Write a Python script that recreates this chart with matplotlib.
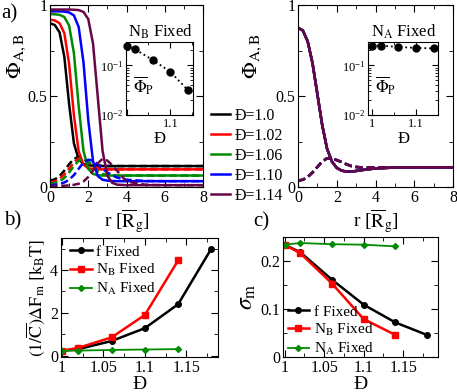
import numpy as np
import matplotlib
matplotlib.use('Agg')
import matplotlib.pyplot as plt
from matplotlib.ticker import MultipleLocator, LogLocator, NullFormatter

plt.rcParams['font.family'] = ['Liberation Serif', 'DejaVu Serif']
plt.rcParams['mathtext.fontset'] = 'stix'

# ---- data ----
r = [0, 0.25, 0.5, 0.75, 1.0, 1.25, 1.5, 1.75, 2.0, 2.25, 2.5, 2.75, 3.0, 3.25, 3.5, 4.0, 5.0, 6.0, 7.0, 8.0]
disp_labels = ['Đ=1.0', 'Đ=1.02', 'Đ=1.06', 'Đ=1.10', 'Đ=1.14']
colors = ['black', 'red', '#008b00', 'blue', '#670748']

# N_B fixed: solid = Phi_A, dashed = Phi_B
phiA_nb = [
    [0.90, 0.89, 0.85, 0.715, 0.455, 0.24, 0.152, 0.127, 0.12, 0.117, 0.116, 0.115, 0.115, 0.115, 0.115, 0.115, 0.115, 0.115, 0.115, 0.115],
    [0.92, 0.915, 0.90, 0.845, 0.675, 0.395, 0.195, 0.123, 0.103, 0.099, 0.097, 0.097, 0.097, 0.097, 0.097, 0.097, 0.097, 0.097, 0.097, 0.097],
    [0.95, 0.949, 0.946, 0.934, 0.887, 0.735, 0.445, 0.198, 0.1, 0.072, 0.065, 0.063, 0.063, 0.063, 0.063, 0.063, 0.063, 0.063, 0.063, 0.063],
    [0.965, 0.965, 0.965, 0.964, 0.959, 0.943, 0.879, 0.686, 0.368, 0.141, 0.06, 0.04, 0.035, 0.033, 0.032, 0.032, 0.032, 0.032, 0.032, 0.032],
    [0.975, 0.975, 0.975, 0.975, 0.975, 0.974, 0.972, 0.962, 0.923, 0.788, 0.492, 0.197, 0.062, 0.023, 0.013, 0.01, 0.01, 0.01, 0.01, 0.01],
]
phiB_nb = [
    [0.035, 0.042, 0.06, 0.09, 0.125, 0.155, 0.165, 0.155, 0.135, 0.123, 0.118, 0.116, 0.115, 0.115, 0.115, 0.115, 0.115, 0.115, 0.115, 0.115],
    [0.025, 0.03, 0.045, 0.07, 0.1, 0.135, 0.158, 0.155, 0.135, 0.115, 0.105, 0.1, 0.098, 0.097, 0.097, 0.097, 0.097, 0.097, 0.097, 0.097],
    [0.018, 0.022, 0.03, 0.05, 0.08, 0.115, 0.145, 0.155, 0.14, 0.11, 0.085, 0.072, 0.066, 0.064, 0.063, 0.063, 0.063, 0.063, 0.063, 0.063],
    [0.01, 0.012, 0.016, 0.025, 0.04, 0.065, 0.1, 0.135, 0.15, 0.145, 0.125, 0.1, 0.08, 0.065, 0.052, 0.04, 0.033, 0.032, 0.032, 0.032],
    [0.005, 0.005, 0.006, 0.007, 0.009, 0.012, 0.018, 0.03, 0.055, 0.09, 0.13, 0.155, 0.145, 0.12, 0.09, 0.03, 0.012, 0.01, 0.01, 0.01],
]
# N_A fixed: all dispersities give the same profile
phiA_na = [0.875, 0.86, 0.80, 0.68, 0.51, 0.34, 0.21, 0.14, 0.105, 0.09, 0.085, 0.085, 0.088, 0.092, 0.096, 0.102, 0.107, 0.108, 0.108, 0.108]
phiB_na = [0.035, 0.04, 0.055, 0.08, 0.11, 0.14, 0.158, 0.155, 0.148, 0.137, 0.125, 0.115, 0.11, 0.108, 0.108, 0.108, 0.108, 0.108, 0.108, 0.108]

# insets
D_in = [1.0, 1.02, 1.06, 1.10, 1.14]
phiP_nb = [0.245, 0.21, 0.128, 0.074, 0.0315]
phiP_na = [0.25, 0.25, 0.235, 0.225, 0.22]

# panel b / c
D_f = [1.0, 1.02, 1.06, 1.10, 1.14, 1.18]
D_n = [1.0, 1.02, 1.06, 1.10, 1.14]
dF_f = [0.22, 0.3, 0.68, 1.28, 2.4, 5.0]
dF_nb = [0.22, 0.36, 0.85, 1.9, 4.45]
dF_na = [0.22, 0.23, 0.26, 0.28, 0.3]
sig_f = [0.234, 0.218, 0.161, 0.109, 0.072, 0.046]
sig_nb = [0.234, 0.216, 0.153, 0.079, 0.046]
sig_na = [0.234, 0.2375, 0.235, 0.234, 0.2305]

W, H = 457, 392
fig = plt.figure(figsize=(W / 100, H / 100), dpi=100)

def px(x0, y0, x1, y1):
    return [x0 / W, 1 - y1 / H, (x1 - x0) / W, (y1 - y0) / H]

def style(ax, fs=11.5):
    ax.tick_params(which='both', direction='in', top=True, right=True, labelsize=fs, pad=2)
    ax.tick_params(which='major', length=5)
    ax.tick_params(which='minor', length=3)

dash = (0, (3, 1.5))

ax1 = fig.add_axes(px(50, 5, 203, 187))
ax2 = fig.add_axes(px(298, 5, 453, 187))
for ax in (ax1, ax2):
    ax.set_xlim(0, 8)
    ax.set_ylim(0, 1)
    ax.xaxis.set_major_locator(MultipleLocator(2))
    ax.xaxis.set_minor_locator(MultipleLocator(1))
    ax.yaxis.set_minor_locator(MultipleLocator(0.25))
    style(ax)
    ax.set_yticks([0, 0.5, 1])
    ax.set_yticklabels(['0', '0.5', '1'])
    ax.set_xlabel(r'r [$\overline{\rm R}_{\rm g}$]', fontsize=14, labelpad=1)
    ax.set_ylabel(r'$\Phi_{\rm A,B}$', fontsize=16, labelpad=2)

ax1.yaxis.set_label_coords(-0.145, 0.72)
ax2.yaxis.set_label_coords(-0.22, 0.72)

lines = []
for i in range(5):
    l, = ax1.plot(r, phiA_nb[i], color=colors[i], lw=1.8)
    ax1.plot(r, phiB_nb[i], color=colors[i], lw=1.8, ls=dash)
    lines.append(l)
for i in range(5):
    ax2.plot(r, phiA_na, color=colors[i], lw=1.8)
    ax2.plot(r, phiB_na, color=colors[i], lw=1.8, ls=dash)

fig.legend(lines, disp_labels, loc='upper left', bbox_to_anchor=(211 / W, 1 - 108 / H),
           frameon=False, fontsize=11.5, handlelength=1.2, handletextpad=0.25,
           labelspacing=0.25, borderpad=0, borderaxespad=0)

# insets
in1 = fig.add_axes(px(126.5, 41.7, 193.3, 115))
in2 = fig.add_axes(px(368.3, 41.7, 438.3, 115))
for ax, vals, title, xl in ((in1, phiP_nb, r'N$_{\rm B}$ Fixed', (1.0, 1.152)),
                            (in2, phiP_na, r'N$_{\rm A}$ Fixed', (0.992, 1.15))):
    ax.plot(D_in, vals, color='black', ls=':', lw=1.3, marker='o', ms=5, clip_on=False)
    ax.set_yscale('log')
    ax.set_ylim(0.01, 0.3)
    ax.set_xlim(*xl)
    ax.yaxis.set_major_locator(LogLocator(base=10, numticks=5))
    ax.yaxis.set_minor_locator(LogLocator(base=10, subs=np.arange(2, 10), numticks=10))
    ax.yaxis.set_minor_formatter(NullFormatter())
    ax.xaxis.set_minor_locator(MultipleLocator(0.05))
    style(ax, fs=9)
    ax.tick_params(which='major', length=4)
    ax.tick_params(which='minor', length=2)
    ax.set_xlabel('Đ', fontsize=12, labelpad=1)
    ax.set_title(title, fontsize=12, pad=4)
    ax.text(0.1, 0.4, r'$\overline{\Phi}_{\rm P}$', transform=ax.transAxes, fontsize=12, va='center')
in1.set_xticks([1.0, 1.1])
in1.set_xticklabels(['', '1.1'])
in2.set_xticks([1.0, 1.1])
in2.set_xticklabels(['1', '1.1'])

# panel b
ax3 = fig.add_axes(px(61, 238, 218, 357))
ax3.plot(D_f, dF_f, color='black', lw=1.8, marker='o', ms=4, label='f Fixed')
ax3.plot(D_n, dF_nb, color='red', lw=1.8, marker='s', ms=4.5, label=r'N$_{\rm B}$ Fixed')
ax3.plot(D_n, dF_na, color='#008b00', lw=1.3, marker='D', ms=3, label=r'N$_{\rm A}$ Fixed')
ax3.set_xlim(0.999, 1.188)
ax3.set_ylim(-0.07, 5.5)
ax3.set_xticks([1, 1.05, 1.1, 1.15])
ax3.set_xticklabels(['1', '1.05', '1.1', '1.15'])
ax3.xaxis.set_minor_locator(MultipleLocator(0.025))
ax3.yaxis.set_major_locator(MultipleLocator(2))
ax3.yaxis.set_minor_locator(MultipleLocator(1))
style(ax3)
ax3.set_xlabel('Đ', fontsize=14, labelpad=0)
ax3.set_ylabel(r'$(1/\overline{\rm C})\Delta{\rm F}_{\rm m}\ [{\rm k}_{\rm B}{\rm T}]$', fontsize=13, labelpad=2)
ax3.legend(loc='upper left', bbox_to_anchor=(0.06, 0.94), frameon=False, fontsize=11,
           handlelength=1.4, handletextpad=0.3, labelspacing=0.2, borderpad=0, borderaxespad=0)

# panel c
ax4 = fig.add_axes(px(283, 237, 438, 357))
ax4.plot(D_f, sig_f, color='black', lw=1.8, marker='o', ms=4, label='f Fixed')
ax4.plot(D_n, sig_nb, color='red', lw=1.8, marker='s', ms=4.5, label=r'N$_{\rm B}$ Fixed')
ax4.plot(D_n, sig_na, color='#008b00', lw=1.3, marker='D', ms=3, label=r'N$_{\rm A}$ Fixed')
ax4.set_xlim(0.998, 1.194)
ax4.set_ylim(0, 0.25)
ax4.set_xticks([1, 1.05, 1.1, 1.15])
ax4.set_xticklabels(['1', '1.05', '1.1', '1.15'])
ax4.xaxis.set_minor_locator(MultipleLocator(0.025))
ax4.yaxis.set_minor_locator(MultipleLocator(0.05))
style(ax4)
ax4.set_yticks([0, 0.1, 0.2])
ax4.set_yticklabels(['0', '0.1', '0.2'])
ax4.set_xlabel('Đ', fontsize=14, labelpad=0)
ax4.set_ylabel(r'$\sigma_{\rm m}$', fontsize=17, labelpad=2)
ax4.legend(loc='lower left', bbox_to_anchor=(0.03, 0.0), frameon=False, fontsize=11,
           handlelength=1.4, handletextpad=0.3, labelspacing=0.2, borderpad=0, borderaxespad=0)

fig.text(1 / W, 1 - 14 / H, 'a)', fontsize=15, va='center')
fig.text(4 / W, 1 - 221 / H, 'b)', fontsize=15, va='center')
fig.text(253 / W, 1 - 222 / H, 'c)', fontsize=15, va='center')

fig.savefig('out.png', dpi=100)
